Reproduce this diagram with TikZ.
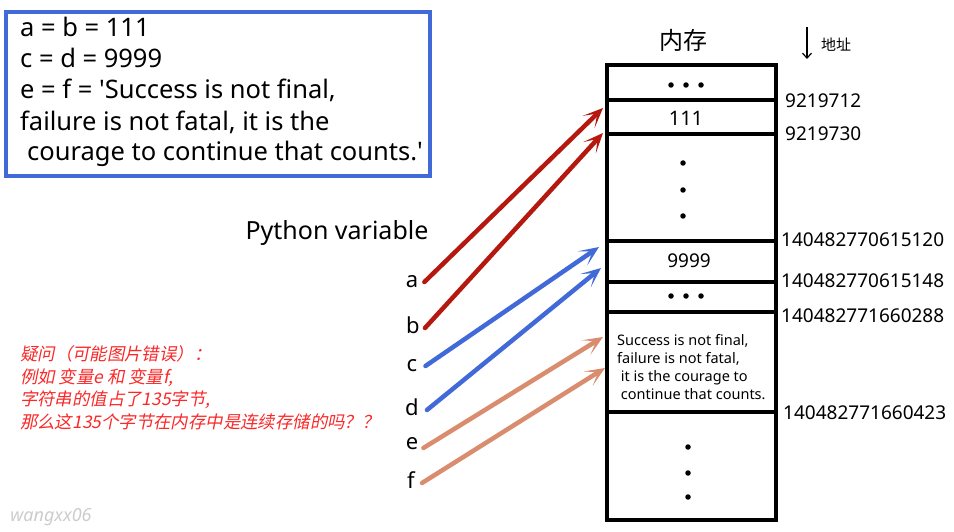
\documentclass[tikz,border=0pt]{standalone}
\usepackage{fontspec}
\setmainfont{Noto Sans}
\newfontfamily\codefont{Noto Sans}[Ligatures=TeXOff]
\newfontfamily\cjk{Noto Sans CJK SC}
\newfontfamily\cjkit[FakeSlant=0.2]{Noto Sans CJK SC}
\usetikzlibrary{arrows.meta}

\definecolor{boxblue}{RGB}{65,105,216}
\definecolor{ptrred}{RGB}{181,24,14}
\definecolor{ptrsalmon}{RGB}{217,140,110}
\definecolor{notered}{RGB}{250,40,40}

\tikzset{
  cell/.style={line width=4.5pt},
  addr/.style={anchor=west, font=\fontsize{19}{19}\selectfont, inner sep=0pt},
  var/.style={font=\fontsize{22}{22}\selectfont, inner sep=0pt},
  ptr/.style={line width=4.5pt, line cap=round, -{Stealth[length=20pt,width=17pt,inset=12pt]}},
  code/.style={anchor=west, font=\codefont\fontsize{25.5}{25.5}\selectfont, inner sep=0pt},
  dot/.style={circle, fill=black, inner sep=0pt, minimum size=5.5pt}
}

\begin{document}
\begin{tikzpicture}[x=1pt,y=-1pt]
    \useasboundingbox (0,0) rectangle (954,532);

    % source code box
    \draw[boxblue,line width=4pt] (6,12) rectangle (430,176);
    \node[code] (l1) at (20,27)  {a = b = 111};
    \node[code] (l2) at (20,58)  {c = d = 9999};
    \node[code] (l3) at (20,90)  {e = f = 'Success is not final,};
    \node[code] (l4) at (20,122) {failure is not fatal, it is the};
    \node[code] (l5) at (27,154) {courage to continue that counts.'};

    % memory column
    \node[font=\cjk\fontsize{24}{24}\selectfont] (mem) at (683,40) {内存};
    \draw[-{Straight Barb[length=5pt,width=9pt]},line width=1.2pt] (807,27) -- (807,59);
    \node[font=\cjk\fontsize{15}{15}\selectfont] (addrlbl) at (836,45) {地址};
    \draw[cell] (607,65) rectangle (776,520);
    \foreach \y in {100,134,241,282,312,412}
      \draw[cell] (607,\y) -- (776,\y);

    \foreach \x in {671,686,701} \node[dot] at (\x,85) {};
    \node[font=\fontsize{20}{20}\selectfont] (v111) at (686,118) {111};
    \foreach \y in {163,190,216} \node[dot] at (683,\y) {};
    \node[font=\fontsize{19}{19}\selectfont] (v9999) at (689,261) {9999};
    \foreach \x in {671,686,701} \node[dot] at (\x,296) {};
    \node[anchor=west, align=left, inner sep=0pt, font=\fontsize{14.5}{18}\selectfont] (vstr) at (617,367)
      {Success is not final,\\failure is not fatal,\\\ it is the courage to\\\ continue that counts.};
    \foreach \y in {447,473,497} \node[dot] at (688,\y) {};

    % addresses
    \node[addr] (a1) at (785,101) {9219712};
    \node[addr] (a2) at (785,134) {9219730};
    \node[addr] (a3) at (781,240) {140482770615120};
    \node[addr] (a4) at (781,281) {140482770615148};
    \node[addr] (a5) at (781,316) {140482771660288};
    \node[addr] (a6) at (783,413) {140482771660423};

    % variables
    \node[font=\fontsize{25}{25}\selectfont] (pyvar) at (337,233) {Python variable};
    \node[var] (a) at (412,282) {a};
    \node[var] (b) at (413,325) {b};
    \node[var] (c) at (412,366) {c};
    \node[var] (d) at (412,407) {d};
    \node[var] (e) at (412,444) {e};
    \node[var] (f) at (411,480) {f};

    \coordinate (ta) at (603,108);
    \coordinate (tb) at (603,133);
    \coordinate (tc) at (599,247);
    \coordinate (td) at (601,268);
    \coordinate (te) at (603,337);
    \coordinate (tf) at (605,368);

    \draw[ptr,ptrred] (a.east) ++(6,0) coordinate (sa) -- (ta);
    \draw[ptr,ptrred] (b.east) ++(5,3) coordinate (sb) -- (tb);
    \draw[ptr,boxblue] (c.east) ++(8,0) coordinate (sc) -- (tc);
    \draw[ptr,boxblue] (d.east) ++(8,3) coordinate (sd) -- (td);
    \draw[ptr,ptrsalmon] (e.east) ++(5,4) coordinate (se) -- (te);
    \draw[ptr,ptrsalmon] (f.east) ++(7,3) coordinate (sf) -- (tf);

    % question
    \node[anchor=west, align=left, inner sep=0pt, text=notered,
          font=\cjkit\fontsize{17.4}{22.5}\selectfont] (note) at (20,388)
      {疑问（可能图片错误）：\\例如 变量e 和 变量f,\\字符串的值占了135字节,\\那么这135个字节在内存中是连续存储的吗？？};
    \node[text=black!20, font=\itshape\fontsize{18}{18}\selectfont] (sign) at (51,517) {wangxx06};
\end{tikzpicture}
\end{document}
